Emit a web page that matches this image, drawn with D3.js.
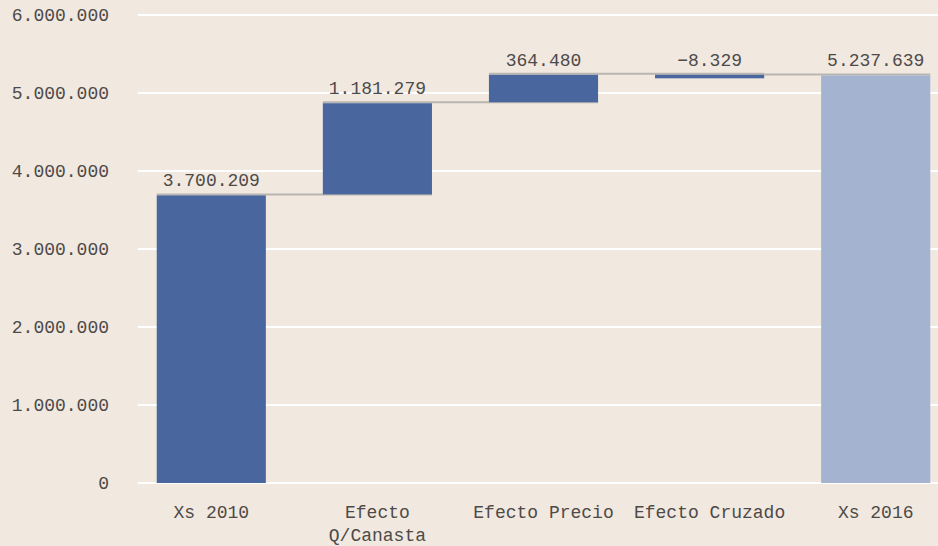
<!DOCTYPE html>
<html>
<head>
<meta charset="utf-8">
<script src="https://cdn.jsdelivr.net/npm/d3@7"></script>
<style>
html,body{margin:0;padding:0;background:#f1e8e0;}
svg{display:block;font-family:"Liberation Mono",monospace;}
</style>
</head>
<body>
<div id="chart"></div>
<script>
const categories = ["Xs 2010","Efecto Q/Canasta","Efecto Precio","Efecto Cruzado","Xs 2016"];
const values = [3700209, 1181279, 364480, -8329, 5237639];
const isTotal = [true, false, false, false, true];
const yTicks = [0,1000000,2000000,3000000,4000000,5000000,6000000];

const W=938,H=546;
const textColor = "#4d4a48";
const fmt = v => d3.format(",")(v).replace(/,/g,".");

// build waterfall steps
let run = 0;
const steps = categories.map((c,i)=>{
  let start, end;
  if(isTotal[i]){ start=0; end=values[i]; run=values[i]; }
  else { start=run; end=run+values[i]; run=end; }
  return {cat:c, value:values[i], start, end, total:isTotal[i]};
});

const svg = d3.select("#chart").append("svg").attr("width",W).attr("height",H);
svg.append("rect").attr("width",W).attr("height",H).attr("fill","#f1e8e0");

const x = d3.scaleBand().domain(categories).range([128.5,958.5]).paddingInner(0.343).paddingOuter(0.17);
const y = d3.scaleLinear().domain([0,6000000]).range([483,15]);

// grid
svg.append("g").selectAll("line").data(yTicks).join("line")
  .attr("x1",138).attr("x2",W).attr("y1",d=>y(d)).attr("y2",d=>y(d))
  .attr("stroke","#ffffff").attr("stroke-width",2);

// y axis labels
const yAxis = svg.append("g").attr("transform","translate(109,0)")
  .call(d3.axisLeft(y).tickValues(yTicks).tickFormat(fmt).tickSize(0).tickPadding(0));
yAxis.select(".domain").remove();
yAxis.selectAll("text").attr("font-size",18).attr("fill",textColor).attr("font-family","Liberation Mono, monospace");

// connectors
svg.append("g").selectAll("line").data(steps.slice(0,-1)).join("line")
  .attr("x1",(d,i)=>x(categories[i]))
  .attr("x2",(d,i)=>x(categories[i+1])+x.bandwidth())
  .attr("y1",d=>y(d.end)).attr("y2",d=>y(d.end))
  .attr("stroke","#b9b6b2").attr("stroke-width",2);

// bars
svg.append("g").selectAll("rect").data(steps).join("rect")
  .attr("x",d=>x(d.cat)).attr("width",x.bandwidth())
  .attr("y",d=>Math.min(y(d.start),y(d.end))+1)
  .attr("height",d=>Math.max(Math.abs(y(d.start)-y(d.end))-1,3.5))
  .attr("fill",d=>d.total&&d.cat!==categories[0]?"#a3b3d0":"#49679e");

// value labels
svg.append("g").selectAll("text").data(steps).join("text")
  .attr("x",d=>x(d.cat)+x.bandwidth()/2)
  .attr("y",d=>y(Math.max(d.start,d.end))-8)
  .attr("text-anchor","middle").attr("font-size",18).attr("fill",textColor)
  .text(d=>fmt(d.value));

// x labels with wrapping
const xl = svg.append("g").selectAll("text").data(categories).join("text")
  .attr("x",d=>x(d)+x.bandwidth()/2).attr("y",518)
  .attr("text-anchor","middle").attr("font-size",18).attr("fill",textColor);
xl.each(function(d){
  const lines = d.length>15 ? d.split(" ") : [d];
  const t = d3.select(this);
  lines.forEach((l,i)=>t.append("tspan").attr("x",x(d)+x.bandwidth()/2).attr("dy",i?23:0).text(l));
});
</script>
</body>
</html>
